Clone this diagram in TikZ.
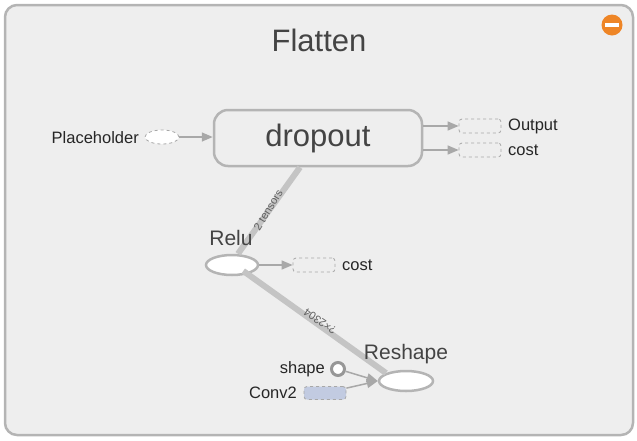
\documentclass[tikz,border=0pt]{standalone}
\usepackage{fontspec}
\setmainfont{Liberation Sans}
\usetikzlibrary{arrows.meta,shapes.geometric}
\definecolor{framegray}{HTML}{B4B4B4}
\definecolor{bggray}{HTML}{EEEEEE}
\definecolor{edgegray}{HTML}{A8A8A8}
\definecolor{thickgray}{HTML}{C4C4C4}
\definecolor{textdark}{HTML}{444444}
\definecolor{constblue}{HTML}{C2CBE1}
\definecolor{minusorange}{HTML}{EE8526}
\tikzset{
  opnode/.style={ellipse, draw=framegray, line width=2.5pt, fill=white,
    minimum width=52, minimum height=20, inner sep=0pt},
  deadnode/.style={rectangle, rounded corners=3pt, draw=edgegray, dashed,
    line width=0.8pt, minimum width=42, minimum height=14, inner sep=0pt},
  lbl/.style={font=\fontsize{16.5}{16.5}\selectfont, text=black!85, inner sep=0pt},
  oplbl/.style={font=\fontsize{21}{21}\selectfont, text=textdark, inner sep=0pt},
  flow/.style={draw=edgegray, line width=1.5pt,
    -{Triangle[length=11pt,width=9pt]}},
  fatflow/.style={draw=thickgray, line width=6pt},
  edgelbl/.style={font=\fontsize{11}{11}\selectfont, text=textdark!85, inner sep=0pt}
}
\begin{document}
\begin{tikzpicture}[x=1pt, y=1pt]
  \useasboundingbox (0,0) rectangle (637,-440);
  % group frame
  \draw[framegray, line width=2.5pt, fill=bggray, rounded corners=12pt]
    (5,-5) rectangle (633,-435);
  \node[circle, fill=minusorange, minimum size=21pt, inner sep=0pt] (collapse) at (612,-25) {};
  \fill[white] (605,-23.3) rectangle (619,-26.7);
  \node[font=\fontsize{31}{31}\selectfont, text=textdark] (title) at (319,-40) {Flatten};

  % nodes
  \node[draw=framegray, line width=2.5pt, fill=bggray, rounded corners=14pt,
    minimum width=208, minimum height=56, inner sep=0pt,
    font=\fontsize{31}{31}\selectfont, text=textdark] (dropout) at (318,-138) {dropout};
  \node[ellipse, draw=edgegray, dashed, line width=0.8pt, fill=white,
    minimum width=34, minimum height=14, inner sep=0pt] (ph) at (162,-137) {};
  \node[lbl, anchor=east] (phlbl) at (139,-138) {Placeholder};
  \node[deadnode] (out) at (480,-126) {};
  \node[lbl, anchor=west] (outlbl) at (508,-126) {Output};
  \node[deadnode] (cost1) at (480,-150) {};
  \node[lbl, anchor=west] (cost1lbl) at (508,-150) {cost};

  \node[opnode] (relu) at (232,-265) {};
  \node[deadnode] (cost2) at (314,-265) {};
  \node[lbl, anchor=west] (cost2lbl) at (342,-265) {cost};

  \node[opnode, minimum width=54] (reshape) at (406,-381) {};
  \node[circle, draw=edgegray!90!black, line width=3pt, fill=white,
    minimum size=13pt, inner sep=0pt] (shape) at (338,-369) {};
  \node[lbl, anchor=east] (shapelbl) at (325,-369) {shape};
  \node[deadnode, fill=constblue, minimum height=13] (conv) at (325,-393) {};
  \node[lbl, anchor=east] (convlbl) at (297,-393) {Conv2};

  % edges
  \draw[fatflow] (dropout.south -| 300,0) -- (relu.north -| 238,0)
    node[edgelbl, midway, rotate=58.5, yshift=1pt] {2 tensors};
  \draw[fatflow] (relu.south east) ++(-8,2) -- (reshape.north west);
  \path (relu) -- (reshape) node[edgelbl, pos=0.5, rotate=145.5, yshift=-2pt] {?×2304};
  \draw[flow] (ph) -- (dropout.west |- ph);
  \draw[flow] (dropout.east |- out) -- (out);
  \draw[flow] (dropout.east |- cost1) -- (cost1);
  \draw[flow] (relu) -- (cost2);
  \draw[flow] (shape) -- (reshape.west);
  \draw[flow] (conv) -- (reshape.west);

  % op names on top
  \node[oplbl] (relulbl) at (231,-238) {Relu};
  \node[oplbl] (reshapelbl) at (406,-354) {Reshape};
\end{tikzpicture}
\end{document}
